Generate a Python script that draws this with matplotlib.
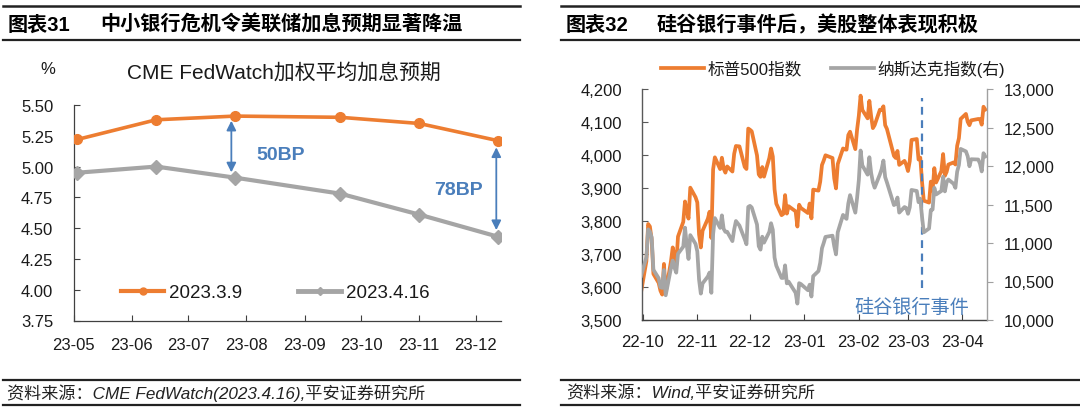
import matplotlib
matplotlib.use('Agg')
import matplotlib.pyplot as plt
import matplotlib.dates as mdates
from matplotlib.lines import Line2D
from matplotlib.ticker import FuncFormatter
import numpy as np
import pandas as pd

plt.rcParams['font.family'] = ['Liberation Sans', 'Noto Sans CJK SC']
plt.rcParams['axes.unicode_minus'] = False

# ---------- 左图数据：CME FedWatch 各次议息会议加权平均利率预期 ----------
fomc_dates = pd.to_datetime(['2023-05-03', '2023-06-14', '2023-07-26',
                             '2023-09-20', '2023-11-01', '2023-12-13'])
rate_0309 = [5.22, 5.38, 5.41, 5.40, 5.35, 5.21]
rate_0416 = [4.95, 5.00, 4.91, 4.78, 4.61, 4.43]

# ---------- 右图数据：标普500 与 纳斯达克 收盘 ----------
us_holidays = pd.to_datetime(['2022-11-24', '2022-12-26', '2023-01-02',
                              '2023-01-16', '2023-02-20', '2023-04-07'])
trade_dates = pd.bdate_range('2022-09-30', '2023-04-14').difference(us_holidays)

spx = [3585.62,
       3678.43, 3790.93, 3783.28, 3744.52, 3639.66, 3612.39, 3588.84, 3577.03, 3669.91, 3583.07,
       3677.95, 3719.98, 3695.16, 3665.78, 3752.75, 3797.34, 3859.11, 3830.60, 3807.30, 3901.06, 3871.98,
       3856.10, 3759.69, 3719.89, 3770.55, 3806.80, 3828.11, 3748.57, 3956.37, 3992.93, 3957.25,
       3991.73, 3958.79, 3946.56, 3965.34, 3949.94, 4003.58, 4027.26, 4026.12, 3963.94, 3957.63, 4080.11,
       4076.57, 4071.70, 3998.84, 3941.26, 3933.92, 3963.51, 3934.38, 3990.56, 4019.65, 3995.32,
       3895.75, 3852.36, 3817.66, 3821.62, 3878.44, 3822.39, 3844.82, 3829.25, 3783.22, 3849.28, 3839.50,
       3824.14, 3852.97, 3808.10, 3895.08, 3892.09, 3919.25, 3969.61, 3983.17, 3999.09, 3990.97,
       3928.86, 3898.85, 3972.61, 4019.81, 4016.95, 4016.22, 4060.43, 4070.56, 4017.77, 4076.60,
       4119.21, 4179.76, 4136.48, 4111.08, 4164.00, 4117.86, 4081.50, 4090.46, 4137.29, 4136.13,
       4147.60, 4090.41, 4079.09, 3997.34, 3991.05, 4012.32, 3970.04, 3982.24, 3970.15,
       3951.39, 3981.35, 4045.64, 4048.42, 3986.37, 3992.01, 3918.32, 3861.59, 3855.76, 3919.29,
       3891.93, 3960.28, 3916.64, 3951.57, 4002.87, 3936.97, 3948.72, 3970.99, 3977.53, 3971.27,
       4027.81, 4050.83, 4109.31,
       4124.51, 4100.60, 4090.38, 4105.02, 4109.11, 4108.94, 4091.95, 4146.22, 4137.64]

nasdaq = [10575.62,
          10815.43, 11176.41, 11148.64, 11073.31, 10652.41, 10542.10, 10426.19, 10417.10, 10649.15, 10321.39,
          10675.80, 10772.40, 10680.51, 10614.84, 10859.72, 10952.61, 11199.12, 10970.99, 10792.68, 11102.45, 10988.15,
          10890.85, 10524.80, 10342.94, 10475.25, 10564.52, 10616.20, 10353.17, 11114.15, 11323.33, 11196.22,
          11358.41, 11183.66, 11144.96, 11146.06, 11024.51, 11174.41, 11285.32, 11226.36, 11049.50, 10983.78, 11468.00,
          11482.45, 11461.50, 11239.94, 10958.55, 10913.97, 11082.00, 11004.62, 11143.74, 11256.81, 11170.89,
          10810.53, 10705.41, 10546.03, 10547.11, 10709.37, 10476.12, 10497.86, 10353.23, 10213.29, 10478.09, 10466.48,
          10386.98, 10458.76, 10305.24, 10569.29, 10635.65, 10742.63, 10931.67, 11001.10, 11079.16, 11095.11,
          10957.01, 10852.27, 11140.43, 11364.41, 11334.27, 11313.36, 11512.41, 11621.71, 11393.81, 11584.55,
          11816.32, 12200.82, 12006.96, 11887.45, 12113.79, 11910.52, 11789.58, 11718.12, 11891.79, 11960.15,
          12070.59, 11855.83, 11787.27, 11492.30, 11507.07, 11590.40, 11394.94, 11466.98, 11455.54,
          11379.48, 11462.98, 11689.01, 11675.74, 11530.33, 11576.00, 11338.36, 11138.89, 11188.84, 11428.15,
          11434.05, 11717.28, 11630.51, 11675.54, 11860.11, 11669.96, 11787.40, 11823.96, 11768.84, 11716.08,
          11926.24, 12013.47, 12221.91,
          12189.45, 12126.33, 11996.86, 12087.96, 12084.36, 12031.88, 11929.34, 12166.27, 12123.47]

svb_date = pd.Timestamp('2023-03-09')

ORANGE = '#ED7D31'
GRAY = '#A5A5A5'
BLUE = '#4A7EBB'
AXC = '#404040'

W, H = 1080, 410
fig = plt.figure(figsize=(W / 100, H / 100), dpi=100)


def fx(px):
    return px / W


def fy(py):
    return 1 - py / H


def hline(x0, x1, y, lw=1.5):
    fig.add_artist(Line2D([fx(x0), fx(x1)], [fy(y), fy(y)], lw=lw, color='#222222',
                          transform=fig.transFigure))


# ========== 标题栏与资料来源 ==========
for x0, x1 in [(3, 520), (561, 1080)]:
    hline(x0, x1, 7, 1.8)
    hline(x0, x1, 41, 1.6)
    hline(x0, x1, 381, 1.6)
    hline(x0, x1, 406, 1.6)

fig.text(fx(7.5), fy(25), '图表31', fontsize=14.5, fontweight='bold', va='center')
fig.text(fx(100), fy(25), '中小银行危机令美联储加息预期显著降温', fontsize=14.5,
         fontweight='bold', va='center')
fig.text(fx(566), fy(25), '图表32', fontsize=14.5, fontweight='bold', va='center')
fig.text(fx(657), fy(25), '硅谷银行事件后，美股整体表现积极', fontsize=14.5,
         fontweight='bold', va='center')

fig.text(fx(7), fy(393), '资料来源：CME FedWatch(2023.4.16),平安证券研究所', fontsize=12.3,
         style='italic', va='center', color='#222222')
fig.text(fx(566), fy(393), '资料来源：Wind,平安证券研究所', fontsize=12.3,
         style='italic', va='center', color='#222222')

# ========== 左图 ==========
ax1 = fig.add_axes([fx(73.5), fy(321.5), (501 - 73.5) / W, (321.5 - 106) / H])
ax1.plot(fomc_dates, rate_0309, color=ORANGE, lw=2.6, marker='o', ms=7, zorder=3)
ax1.plot(fomc_dates, rate_0416, color=GRAY, lw=3, marker='D', ms=7, zorder=3)

ax1.set_ylim(3.75, 5.5)
ax1.set_yticks(np.arange(3.75, 5.51, 0.25))
ax1.yaxis.set_major_formatter(FuncFormatter(lambda v, p: f'{v:.2f}'))
ax1.set_xlim(pd.Timestamp('2023-05-01'), pd.Timestamp('2023-12-14 12:00'))
ax1.xaxis.set_major_locator(mdates.MonthLocator())
ax1.xaxis.set_major_formatter(mdates.DateFormatter('%y-%m'))
for s in ['top', 'right']:
    ax1.spines[s].set_visible(False)
for s in ['left', 'bottom']:
    ax1.spines[s].set_color(AXC)
    ax1.spines[s].set_linewidth(0.9)
ax1.tick_params(axis='both', direction='in', length=4, width=0.8, color=AXC,
                labelsize=12, labelcolor='#1a1a1a')
ax1.tick_params(axis='y', pad=14.5)
ax1.tick_params(axis='x', pad=12)

# 双向箭头与利差标注
arrow_kw = dict(arrowstyle='<|-|>', color=BLUE, lw=1.3, mutation_scale=14,
                shrinkA=0, shrinkB=0)
ax1.annotate('', xy=(pd.Timestamp('2023-07-24'), 5.372),
             xytext=(pd.Timestamp('2023-07-24'), 4.953), arrowprops=arrow_kw)
ax1.annotate('', xy=(pd.Timestamp('2023-12-12'), 5.156),
             xytext=(pd.Timestamp('2023-12-12'), 4.484), arrowprops=arrow_kw)
ax1.text(pd.Timestamp('2023-08-19'), 5.10, '50BP', color=BLUE, fontsize=14,
         fontweight='bold', ha='center', va='center')
ax1.text(pd.Timestamp('2023-11-22'), 4.817, '78BP', color=BLUE, fontsize=14,
         fontweight='bold', ha='center', va='center')

fig.text(fx(283.5), fy(72.4), 'CME FedWatch加权平均加息预期', fontsize=15,
         ha='center', va='center', color='#1a1a1a')
fig.text(fx(48.3), fy(69), '%', fontsize=12, ha='center', va='center', color='#1a1a1a')

leg_h1 = [Line2D([], [], color=ORANGE, lw=3, marker='o', ms=5),
          Line2D([], [], color=GRAY, lw=3.5, marker='D', ms=4.5)]
ax1.legend(leg_h1, ['2023.3.9', '2023.4.16'], loc='center', bbox_to_anchor=(0.472, 0.128),
           ncol=2, frameon=False, fontsize=13.5, handlelength=2.3, handletextpad=0.25,
           columnspacing=3.0, labelcolor='#1a1a1a')

# ========== 右图 ==========
ax = fig.add_axes([fx(642), fy(321), (987 - 642) / W, (321 - 90) / H])
l1, = ax.plot(trade_dates, spx, color=ORANGE, lw=2.7, solid_joinstyle='round')
ax.set_ylim(3500, 4200)
ax.set_yticks(np.arange(3500, 4201, 100))
ax.yaxis.set_major_formatter(FuncFormatter(lambda v, p: f'{v:,.0f}'))
ax.set_xlim(pd.Timestamp('2022-09-30 12:00'), pd.Timestamp('2023-04-15'))
ax.xaxis.set_major_locator(mdates.MonthLocator())
ax.xaxis.set_major_formatter(mdates.DateFormatter('%y-%m'))

ax2 = ax.twinx()
l2, = ax2.plot(trade_dates, nasdaq, color=GRAY, lw=2.7, solid_joinstyle='round')
ax2.set_ylim(10000, 13000)
ax2.set_yticks(np.arange(10000, 13001, 500))
ax2.yaxis.set_major_formatter(FuncFormatter(lambda v, p: f'{v:,.0f}'))

for a in (ax, ax2):
    a.spines['top'].set_visible(False)
ax.spines['right'].set_visible(False)
ax2.spines['left'].set_visible(False)
ax2.spines['bottom'].set_visible(False)
ax.spines['left'].set_color('#595959')
ax.spines['bottom'].set_color(AXC)
ax2.spines['right'].set_color('#A0A0A0')
for s in [ax.spines['left'], ax.spines['bottom'], ax2.spines['right']]:
    s.set_linewidth(1.0)
ax.tick_params(axis='both', direction='in', length=4, width=0.8, color=AXC,
               labelsize=12, labelcolor='#1a1a1a')
ax.tick_params(axis='y', pad=14.5, color='#595959')
ax.tick_params(axis='x', pad=10)
ax2.tick_params(axis='y', direction='out', length=4, width=0.8, color='#A0A0A0',
                labelsize=12, labelcolor='#1a1a1a', pad=8.4)

# 硅谷银行事件
ax.axvline(svb_date, ymin=0.139, ymax=0.96, color=BLUE, lw=1.6, ls=(0, (3.5, 2.5)), zorder=5)
ax.text(0.781, 0.056, '硅谷银行事件', transform=ax.transAxes, color=BLUE, fontsize=13.8,
        ha='center', va='center')

ax2.legend([l1, l2], ['标普500指数', '纳斯达克指数(右)'], loc='center',
           bbox_to_anchor=(0.554, 1.091), ncol=2, frameon=False, fontsize=12,
           handlelength=2.6, handletextpad=0.2, columnspacing=1.75, labelcolor='#1a1a1a')

plt.savefig('out.png', dpi=100, facecolor='white')
